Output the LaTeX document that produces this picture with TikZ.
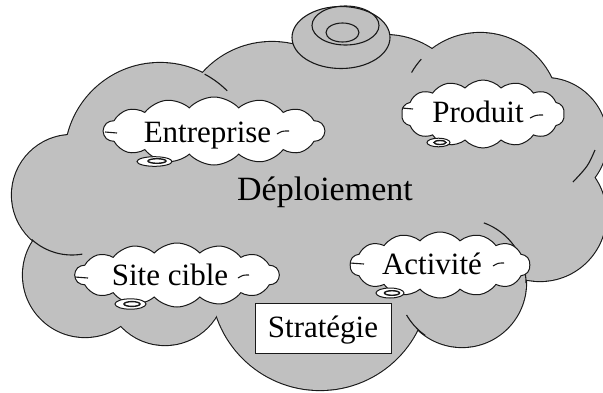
\documentclass[tikz,border=0pt]{standalone}
\usepackage{fontspec}
\setmainfont{Liberation Serif}
\usetikzlibrary{shapes.symbols}
\definecolor{cloudgray}{RGB}{192,192,192}
\definecolor{inkc}{RGB}{25,25,25}
\begin{document}
\begin{tikzpicture}[x=1pt,y=-1pt,
  lbl/.style={font=\fontsize{31}{36}\selectfont, anchor=base, inner sep=0pt, text=black},
  puff/.style={cloud, cloud ignores aspect, draw=inkc, line width=1pt, fill=white,
    cloud puffs=14, cloud puff arc=95, inner sep=0pt},
  ink/.style={draw=inkc, line width=1.1pt},
  tailout/.style={draw=inkc, line width=1pt, fill=white},
  tailin/.style={draw=inkc, line width=1.4pt},
  stratbox/.style={draw=inkc, line width=1pt, fill=white, rectangle, anchor=base,
    inner sep=0pt, minimum width=136pt, text height=34pt, text depth=16pt,
    font=\fontsize{31}{36}\selectfont}]
\useasboundingbox (0,0) rectangle (603,392);
% big grey cloud: outline of the union of circles
\foreach \cx/\cy/\r in {272/135/93,160/158/95,72/195/60,85/275/62,165/285/60,320/281/109,462/283/64,540/215/66,545/140/62,480/112/79,385/120/85}
  \fill[inkc] (\cx,\cy) circle (\r+1.1);
\foreach \cx/\cy/\r in {272/135/93,160/158/95,72/195/60,85/275/62,165/285/60,320/281/109,462/283/64,540/215/66,545/140/62,480/112/79,385/120/85}
  \fill[cloudgray] (\cx,\cy) circle (\r);
\fill[cloudgray] (310,210) ellipse [x radius=230, y radius=110];
% inner arcs of the big cloud
\draw[ink] ([shift={(-62:95)}]160,158) arc (-62:-45:95);
\draw[ink] ([shift={(80:60)}]72,195) arc (80:132:60);
\draw[ink] ([shift={(-150:79)}]480,112) arc (-150:-138:79);
\draw[ink] ([shift={(-70:64)}]462,283) arc (-70:0:64);
\draw[ink] ([shift={(125:64)}]462,283) arc (125:150:64);
\draw[ink] (595,150) .. controls (588,166) .. (573,182);
% knob on top
\draw[ink, fill=cloudgray] (341,37.5) ellipse [x radius=49, y radius=31];
\draw[ink] (345.5,25.5) ellipse [x radius=33.5, y radius=19.5];
\draw[ink] (342.5,32.5) ellipse [x radius=16.5, y radius=9.5];
% white clouds
\node[puff, minimum width=221pt, minimum height=68pt] (entc) at (214,131) {};
\node[puff, minimum width=163pt, minimum height=68pt] (proc) at (483,114) {};
\node[puff, minimum width=204pt, minimum height=64pt] (sitc) at (177,275) {};
\node[puff, minimum width=180pt, minimum height=66pt] (actc) at (440,265) {};
% small strokes inside the white clouds
\draw[ink] (105,132) -- (117,133);
\draw[ink] (277,134) .. controls (282,131) .. (289,131);
\draw[ink] (402,108) -- (413,109);
\draw[ink] (530,118) .. controls (536,115) .. (543,115);
\draw[ink] (75,277) -- (88,278);
\draw[ink] (238,278) .. controls (243,275) .. (249,275);
\draw[ink] (350,263) -- (364,264);
\draw[ink] (493,266) .. controls (498,263) .. (504,263);
% tails
\draw[tailout] (154.5,161.5) ellipse [x radius=17.5, y radius=4.8];
\draw[tailin] (157,161) ellipse [x radius=9, y radius=2.3];
\draw[tailout] (438.5,142.5) ellipse [x radius=11.5, y radius=4.3];
\draw[tailin] (440,142.5) ellipse [x radius=6, y radius=2];
\draw[tailout] (130.5,304) ellipse [x radius=15.5, y radius=5.2];
\draw[tailin] (132,304) ellipse [x radius=8, y radius=2.4];
\draw[tailout] (390,293) ellipse [x radius=14, y radius=5];
\draw[tailin] (392,293) ellipse [x radius=7.5, y radius=2.3];
% texts
\node[lbl] (ent) at (207.5,142) {Entreprise};
\node[lbl] (pro) at (478,122) {Produit};
\node[lbl, font=\fontsize{34}{40}\selectfont] (dep) at (325,200) {Déploiement};
\node[lbl] (sit) at (170,285) {Site cible};
\node[lbl] (act) at (432,274) {Activité};
\node[stratbox] (str) at (323,337) {Stratégie};
\end{tikzpicture}
\end{document}
